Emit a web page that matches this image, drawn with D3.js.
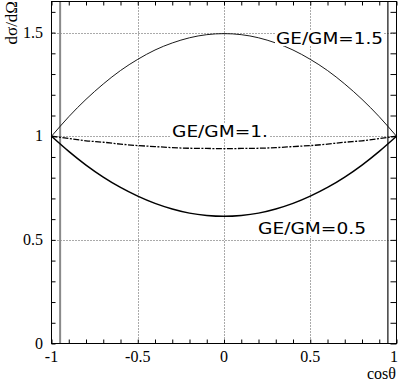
<!DOCTYPE html>
<html>
<head>
<meta charset="utf-8">
<script src="https://cdn.jsdelivr.net/npm/d3@7"></script>
<style>
  html, body { margin: 0; padding: 0; background: #fff; }
  svg { display: block; }
  .serif { font-family: "Liberation Serif", "Times New Roman", "DejaVu Serif", serif; }
  .sans { font-family: "DejaVu Sans", "Liberation Sans", sans-serif; }
</style>
</head>
<body>
<svg id="chart" width="398" height="381"></svg>
<script>
// Angular distribution dσ/dΩ versus cosθ for three form-factor ratios GE/GM
const cosTheta = [-1, -0.9, -0.8, -0.7, -0.6, -0.5, -0.4, -0.3, -0.2, -0.1, 0,
                  0.1, 0.2, 0.3, 0.4, 0.5, 0.6, 0.7, 0.8, 0.9, 1];

const sigmaRatio15 = [1.000, 1.094, 1.178, 1.252, 1.317, 1.371, 1.416, 1.450, 1.475, 1.490, 1.495,
                      1.490, 1.475, 1.450, 1.416, 1.371, 1.317, 1.252, 1.178, 1.094, 1.000];
const sigmaRatio10 = [1.000, 0.989, 0.978, 0.971, 0.962, 0.955, 0.950, 0.945, 0.942, 0.941, 0.940,
                      0.941, 0.942, 0.945, 0.950, 0.955, 0.962, 0.971, 0.978, 0.989, 1.000];
const sigmaRatio05 = [1.000, 0.927, 0.861, 0.803, 0.753, 0.711, 0.676, 0.649, 0.629, 0.618, 0.614,
                      0.618, 0.629, 0.649, 0.676, 0.711, 0.753, 0.803, 0.861, 0.927, 1.000];

const curveLabels = ["GE/GM=1.5", "GE/GM=1.", "GE/GM=0.5"];

const xTickValues = [-1, -0.5, 0, 0.5, 1];
const xTickLabels = ["-1", "-0.5", "0", "0.5", "1"];
const yTickValues = [0, 0.5, 1, 1.5];
const yTickLabels = ["0", "0.5", "1", "1.5"];

// acceptance cuts on |cosθ|
const cutValues = [-0.95, 0.95];

const svg = d3.select("#chart");

const plot = { left: 51.5, right: 396.5, top: 1.5, bottom: 343.5 };

const x = d3.scaleLinear().domain([-1, 1]).range([plot.left, plot.right]);
const y = d3.scaleLinear().domain([0, 1.65]).range([plot.bottom, plot.top]);

// dotted grid at the labelled positions
const grid = svg.append("g").attr("stroke", "#555").attr("stroke-width", 1)
  .attr("stroke-dasharray", "1,2").attr("fill", "none");
grid.selectAll("line.vx").data([-0.5, 0, 0.5]).join("line")
  .attr("x1", d => Math.round(x(d)) + 0.5).attr("x2", d => Math.round(x(d)) + 0.5)
  .attr("y1", plot.top).attr("y2", plot.bottom);
grid.selectAll("line.hy").data([0.5, 1, 1.5]).join("line")
  .attr("y1", d => Math.round(y(d)) + 0.5).attr("y2", d => Math.round(y(d)) + 0.5)
  .attr("x1", plot.left).attr("x2", plot.right);

// cut lines
svg.append("line")
  .attr("x1", x(cutValues[0])).attr("x2", x(cutValues[0]))
  .attr("y1", plot.top).attr("y2", plot.bottom)
  .attr("stroke", "#8a8a8a").attr("stroke-width", 2);
svg.append("line")
  .attr("x1", x(cutValues[1])).attr("x2", x(cutValues[1]))
  .attr("y1", plot.top).attr("y2", plot.bottom)
  .attr("stroke", "#222").attr("stroke-width", 1.3);

// curves
const line = d3.line()
  .x((d, i) => x(cosTheta[i]))
  .y(d => y(d))
  .curve(d3.curveNatural);

const series = [
  { values: sigmaRatio15, width: 0.9, dash: null },
  { values: sigmaRatio10, width: 1.3, dash: "6,1.5,2,1.5" },
  { values: sigmaRatio05, width: 1.5, dash: null }
];
svg.append("g").selectAll("path").data(series).join("path")
  .attr("d", d => line(d.values))
  .attr("fill", "none")
  .attr("stroke", "#000")
  .attr("stroke-width", d => d.width)
  .attr("stroke-dasharray", d => d.dash);

// frame
svg.append("rect")
  .attr("x", plot.left).attr("y", plot.top)
  .attr("width", plot.right - plot.left).attr("height", plot.bottom - plot.top)
  .attr("fill", "none").attr("stroke", "#000").attr("stroke-width", 1);

// axes with inward ticks, minor every 0.1
const minorX = d3.range(-10, 11).map(i => i / 10);
const minorY = d3.range(0, 17).map(i => i / 10);

const axisBottom = d3.axisBottom(x).tickValues(minorX).tickSize(-4).tickFormat("");
const axisTop = d3.axisTop(x).tickValues(minorX).tickSize(-4).tickFormat("");
const axisLeft = d3.axisLeft(y).tickValues(minorY).tickSize(-4).tickFormat("");
const axisRight = d3.axisRight(y).tickValues(minorY).tickSize(-6).tickFormat("");

function styleAxis(g) {
  g.select(".domain").remove();
  g.selectAll(".tick line").attr("stroke", "#000");
}
svg.append("g").attr("transform", `translate(0,${plot.bottom})`).call(axisBottom).call(styleAxis);
svg.append("g").attr("transform", `translate(0,${plot.top})`).call(axisTop).call(styleAxis);
svg.append("g").attr("transform", `translate(${plot.left},0)`).call(axisLeft).call(styleAxis);
svg.append("g").attr("transform", `translate(${plot.right},0)`).call(axisRight).call(styleAxis);

// tick labels
svg.append("g").selectAll("text").data(xTickValues).join("text")
  .attr("class", "serif")
  .attr("x", d => d === 1 ? 398 : x(d)).attr("y", 362)
  .attr("text-anchor", d => d === 1 ? "end" : "middle")
  .attr("font-size", 16)
  .text((d, i) => xTickLabels[i]);

svg.append("g").selectAll("text").data(yTickValues).join("text")
  .attr("class", "serif")
  .attr("x", 43).attr("y", d => y(d) + 5)
  .attr("text-anchor", "end")
  .attr("font-size", 16)
  .text((d, i) => yTickLabels[i]);

// axis titles
svg.append("text")
  .attr("class", "serif")
  .attr("x", 396).attr("y", 379)
  .attr("text-anchor", "end")
  .attr("font-size", 16)
  .text("cosθ");

svg.append("text")
  .attr("class", "serif")
  .attr("transform", "translate(17,1) rotate(-90)")
  .attr("text-anchor", "end")
  .attr("font-size", 17)
  .text("dσ/dΩ");

// curve labels on white boxes
const labelLayout = [
  { x: 276, y: 44, w: 107 },
  { x: 172, y: 137, w: 96 },
  { x: 258, y: 234, w: 108 }
];
const labels = svg.append("g").selectAll("g").data(curveLabels).join("g");
labels.each(function (d, i) {
  const g = d3.select(this);
  const L = labelLayout[i];
  const t = g.append("text")
    .attr("class", "sans")
    .attr("x", L.x).attr("y", L.y)
    .attr("font-size", 16.5)
    .attr("textLength", L.w).attr("lengthAdjust", "spacingAndGlyphs")
    .text(d);
  const b = t.node().getBBox();
  g.insert("rect", "text")
    .attr("x", b.x - 1).attr("y", b.y + 2)
    .attr("width", b.width + 2).attr("height", b.height - 4)
    .attr("fill", "#fff");
});
</script>
</body>
</html>
